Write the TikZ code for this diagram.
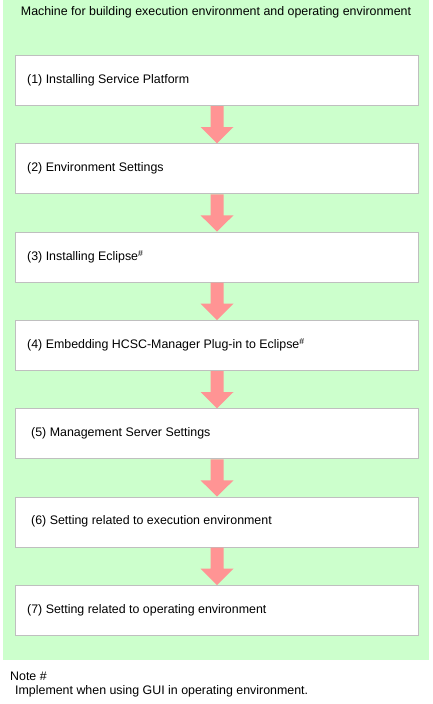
\documentclass[tikz,border=0pt]{standalone}
\usepackage{fontspec}
\setmainfont{Liberation Sans}
\definecolor{bggreen}{HTML}{CCFFCC}
\definecolor{arrowpink}{HTML}{FF9494}
\definecolor{boxgray}{HTML}{BFBFBF}
\begin{document}
\begin{tikzpicture}[x=1pt,y=-1pt,
  stepbox/.style={draw=boxgray,line width=1pt,fill=white,minimum width=403pt,minimum height=50pt,anchor=north west,inner sep=0pt},
  steptext/.style={anchor=west,font=\fontsize{12.4}{14}\selectfont,inner sep=0pt},
  flowarrow/.style={fill=arrowpink,draw=none}]
\useasboundingbox (0,0) rectangle (433,704);
\fill[white] (0,0) rectangle (433,704);
\node[fill=bggreen,minimum width=426pt,minimum height=660pt,anchor=north west,inner sep=0pt] (bg) at (3,0) {};
\node[anchor=north,font=\fontsize{12.4}{14}\selectfont,inner sep=0pt] (title) at (216,6) {Machine for building execution environment and operating environment};
\foreach \i/\y in {1/55,2/143.3,3/231.6,4/320,5/408.3,6/496.6,7/585}{
  \node[stepbox] (b\i) at (15,\y) {};
}
\node[steptext] (t1) at (27,80) {(1) Installing Service Platform};
\node[steptext] (t2) at (27,168.3) {(2) Environment Settings};
\node[steptext] (t3) at (27,256.6) {(3) Installing Eclipse\textsuperscript{\#}};
\node[steptext] (t4) at (27,345) {(4) Embedding HCSC-Manager Plug-in to Eclipse\textsuperscript{\#}};
\node[steptext] (t5) at (31,433.3) {(5) Management Server Settings};
\node[steptext] (t6) at (31,521.6) {(6) Setting related to execution environment};
\node[steptext] (t7) at (27,610) {(7) Setting related to operating environment};
\foreach \a/\b in {1/2,2/3,3/4,4/5,5/6,6/7}{
  \fill[flowarrow] ([xshift=-6.5pt]b\a.south) -- ([xshift=-6.5pt,yshift=-21pt]b\a.south)
    -- ([xshift=-16.5pt,yshift=-21pt]b\a.south) -- (b\b.north)
    -- ([xshift=16.5pt,yshift=-21pt]b\a.south) -- ([xshift=6.5pt,yshift=-21pt]b\a.south)
    -- ([xshift=6.5pt]b\a.south) -- cycle;
}
\node[anchor=west,font=\fontsize{12.4}{14}\selectfont,inner sep=0pt] (note) at (10,676) {Note \#};
\node[anchor=west,font=\fontsize{12.4}{14}\selectfont,inner sep=0pt] (notetext) at (15,691) {Implement when using GUI in operating environment.};
\end{tikzpicture}
\end{document}
